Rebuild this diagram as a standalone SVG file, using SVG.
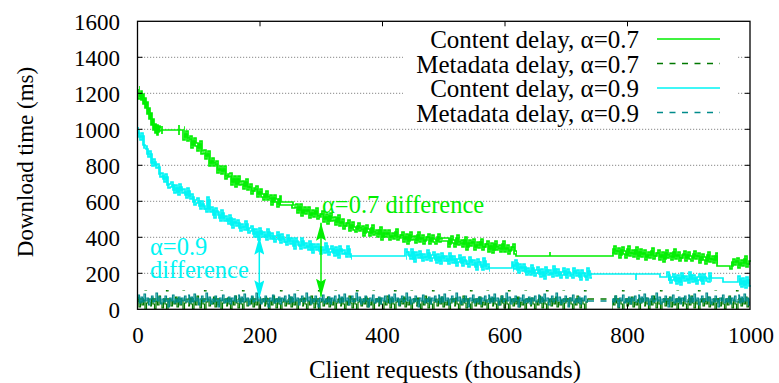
<svg xmlns="http://www.w3.org/2000/svg" width="779" height="383" viewBox="0 0 779 383" font-family="'Liberation Serif', 'Times New Roman', 'DejaVu Serif', serif">
  <style>
    text { font-family: 'Liberation Serif', 'Times New Roman', 'DejaVu Serif', serif; fill: #000; }
    .tick { font-size: 23px; }
    .ylab { text-anchor: end; }
    .xlab { text-anchor: middle; }
    .title { font-size: 24.5px; }
    .key { font-size: 25px; text-anchor: end; }
    .grid { stroke: #888; stroke-width: 1; stroke-dasharray: 1.2 1.8; fill: none; }
    .frame { fill: none; stroke: #000; stroke-width: 1.3; }
    .ticks { stroke: #000; stroke-width: 1; fill: none; }
    .c07 { stroke: #00ee00; stroke-width: 1.7; fill: none; }
    .c09 { stroke: #00f4f4; stroke-width: 1.7; fill: none; }
    .m07 { stroke: #007800; stroke-width: 1.4; fill: none; stroke-dasharray: 6 6.5; }
    .m09 { stroke: #008b8b; stroke-width: 1.4; fill: none; stroke-dasharray: 6 6.5; }
    .arr07 { stroke: #00ee00; stroke-width: 1.5; fill: none; }
    .arr09 { stroke: #00f4f4; stroke-width: 1.5; fill: none; }
  </style>
  <defs>
    <marker id="headGreen" viewBox="0 0 18 10" refX="18" refY="5" markerWidth="18" markerHeight="10" markerUnits="userSpaceOnUse" orient="auto-start-reverse">
      <path d="M0,0 L18,5 L0,10 L3,5 Z" fill="#00ee00"/>
    </marker>
    <marker id="headCyan" viewBox="0 0 18 10" refX="18" refY="5" markerWidth="18" markerHeight="10" markerUnits="userSpaceOnUse" orient="auto-start-reverse">
      <path d="M0,0 L18,5 L0,10 L3,5 Z" fill="#00f4f4"/>
    </marker>
    <!-- jittery low-latency metadata traces, tiled along the bottom of the plot -->
    <pattern id="metaGreen" patternUnits="userSpaceOnUse" x="150" y="292" width="38" height="20">
      <path d="M0,10V14H1.5V6H3V12H4.5V17H6V9H7.5V13H9V4H10.5V11H12V16H13.5V8H15V12H16.5V19H18V10H19.5V7H21V14H22.5V9H24V12H25.5V5H27V15H28.5V10H30V13H31.5V8H33V18H34.5V11H36V7H38V10" stroke="#007800" stroke-width="1.2" fill="none"/>
    </pattern>
    <pattern id="metaTeal" patternUnits="userSpaceOnUse" x="138" y="290" width="50" height="20">
      <path d="M0,9V5H1.5V13H3V7H4.5V12H6V4H7.5V11H9V8H10.5V15H12V9H13.5V6H15V12H16.5V10H18V3H19.5V11H21V7H22.5V14H24V9H25.5V12H27V6H28.5V10H30V17H31.5V8H33V11H34.5V5H36V13H37.5V9H39V12H40.5V7H42V14H43.5V8H45V11H46.5V6H48V12H50V9" stroke="#008b8b" stroke-width="1.2" fill="none"/>
    </pattern>
    <!-- stretches where the traces jitter (flat runs excluded) -->
    <clipPath id="noisy07">
      <rect x="138" y="80" width="22" height="200"/>
      <rect x="183" y="80" width="333" height="200"/>
      <rect x="611" y="80" width="106" height="200"/>
      <rect x="730" y="80" width="20" height="200"/>
    </clipPath>
    <clipPath id="noisy09">
      <rect x="138" y="120" width="213" height="180"/>
      <rect x="405" y="120" width="84" height="180"/>
      <rect x="512" y="120" width="79" height="180"/>
      <rect x="667" y="120" width="44" height="180"/>
      <rect x="738" y="120" width="12" height="180"/>
    </clipPath>
  </defs>

  <rect width="779" height="383" fill="#fff"/>

  <!-- horizontal grid -->
  <g id="grid">
    <path class="grid" d="M138,273.3H750M138,237.3H750M138,201.3H750M138,165.3H750M138,129.3H750M138,93.3H750M138,57.3H750"/>
  </g>

  <!-- key area -->
  <g id="legend">
    <rect x="403" y="22.5" width="334" height="103" fill="#fff"/>
    <text class="key" x="639" y="48">Content delay, α=0.7</text>
    <line x1="657" y1="39" x2="720" y2="39" class="c07"/>
    <text class="key" x="639" y="72.5">Metadata delay, α=0.7</text>
    <line x1="657" y1="63.5" x2="720" y2="63.5" class="m07"/>
    <text class="key" x="639" y="97">Content delay, α=0.9</text>
    <line x1="657" y1="88" x2="720" y2="88" class="c09"/>
    <text class="key" x="639" y="121.5">Metadata delay, α=0.9</text>
    <line x1="657" y1="112.5" x2="720" y2="112.5" class="m09"/>
  </g>

  <!-- metadata delay traces -->
  <g id="metadata">
    <line x1="138" y1="299" x2="750" y2="299" class="m07"/>
    <line x1="138" y1="301" x2="750" y2="301" class="m09"/>
    <rect x="138" y="290" width="450" height="19.3" fill="url(#metaGreen)"/>
    <rect x="612" y="290" width="138" height="19.3" fill="url(#metaGreen)"/>
    <rect x="138" y="290" width="450" height="19.3" fill="url(#metaTeal)"/>
    <rect x="612" y="290" width="138" height="19.3" fill="url(#metaTeal)"/>
  </g>

  <!-- content delay, alpha 0.7 -->
  <g id="content-07">
    <path id="trace07" class="c07" d="M138,89V99H140V94H141V100H142V97H143V104H144V101H145V108H146V105H147V114H148V111H149V119H150V116H151V125H152V122H153V130H154V127H155V133H156V128H157V135H158V129H159V131H160V130H162V126V134V130H179V125V135V130H183V140H185V134H187V141H189V139H191V148H193V141H195V146H197V151H199V144H201V154H203V153H205V159H207V154H209V166H211V161H213V166H215V164H217V173H219V169H221V174H223V169H225V179H227V177H229V176H231V185H233V179H235V187H237V179H239V185H241V184H243V189H245V182H247V190H249V187H251V194H253V191H255V189H257V197H259V192H261V197H263V200H265V194H267V200H269V198H271V205H273V198H275V202H277V207H279V199H280V205H292V208H295V207H297V213H299V207H301V216H303V210H305V214H307V210H309V218H311V213H313V217H315V211H317V219H319V217H321V214H323V222H325V217H327V224H329V216H331V221H333V220H335V225H337V218H339V226H341V222H343V229H345V226H347V223H349V231H351V225H353V230H355V232H357V226H359V231H361V229H363V236H365V228H367V232H369V236H371V228H373V235H375V233H377V237H379V230H381V240H383V233H385V237H387V233H389V240H391V236H393V239H395V232H397V240H399V238H401V235H403V242H405V237H407V244H409V235H411V240H413V239H415V243H417V235H419V242H421V238H423V244H425V240H427V237H429V244H431V238H433V242H435V244H437V237H439V242H441V241H448V247H450V239H452V243H454V247H456V238H458V245H460V243H462V247H464V240H466V250H468V243H470V246H472V242H474V250H476V245H478V248H480V242H482V250H484V247H486V244H488V252H490V246H492V253H494V244H496V250H498V248H500V252H502V244H504V252H506V248H508V254H510V250H512V247H514V254H516V256H550V252V256H611H613V249H615V254H617V251H619V258H621V250H623V254H625V258H627V249H629V256H631V253H633V257H635V250H637V259H639V252H641V257H643V253H645V260H647V255H649V258H651V251H653V259H655V256H657V253H659V260H661V255H663V262H665V253H667V258H669V256H671V260H673V252H675V259H677V255H679V261H681V258H683V254H685V261H687V255H689V259H691V261H693V254H695V259H697V256H699V263H701V257H703V260H705V264H707V255H709V262H711V259H713V263H715V256H717V266H730V269H732V262H734V265H736V261H738V268H740V263H742V266H744V259H746V267H748V264H750"/>
    <use href="#trace07" transform="translate(1,-3)" clip-path="url(#noisy07)"/>
  </g>

  <!-- content delay, alpha 0.9 -->
  <g id="content-09">
    <path id="trace09" class="c09" d="M138,127V133H139V137H141V133H143V145H145V146H147V154H149V151H151V163H153V159H155V165H157V164H159V174H161V173H163V179H165V174H167V185H169V184H171V182H173V190H175V185H177V192H179V184H181V190H183V189H185V195H187V188H189V196H191V194H193V202H195V200H197V198H199V206H201V201H203V206H205V209H207V197H209V209H211V207H213V215H215V208H217V212H219V218H221V210H223V218H225V216H227V221H229V215H231V225H233V219H235V223H237V220H239V228H241V224H243V227H245V221H247V230H249V228H251V226H253V234H255V229H257V237H259V228H261V234H263V232H265V237H267V229H269V236H271V233H273V239H275V236H277V232H279V240H281V234H283V239H285V242H287V235H289V241H291V238H293V246H295V238H297V242H299V246H301V238H303V245H305V243H307V247H309V241H311V250H313V244H315V247H317V244H319V251H321V247H323V250H325V243H327V252H329V249H331V246H333V253H335V247H337V255H339V246H341V251H343V250H345V254H347V246H349V254H351V256H405V249H407V252H409V256H411V249H413V259H415V252H417V255H419V251H421V258H423V254H425V257H427V250H429V258H431V255H433V252H435V260H437V254H439V261H441V253H443V258H445V256H447V261H449V253H451V260H453V256H455V263H457V259H459V255H461V263H463V257H465V261H467V264H469V257H471V262H473V260H475V267H477V259H479V262H481V267H483V258H485V266H487V264H489V268H512V262H513V266H515V260H517V270H519V264H521V268H523V264H525V272H527V268H529V272H531V265H533V273H535V270H537V267H539V274H541V269H543V276H545V267H547V272H549V270H551V274H553V266H555V273H557V269H559V275H561V272H563V268H565V275H567V269H569V273H571V275H573V268H575V273H577V270H579V277H581V270H583V273H585V277H587V268H589V275H591V274H636V280V274H660V277H667V272H669V280H671V277H673V274H675V281H677V275H679V282H681V273H683V278H685V276H687V280H689V272H691V279H693V275H695V281H697V277H699V274H701V281H703V274H705V278H707V279H709V273H711V278H723V282H738V276H740V284H742V278H744V285H746V277H748V283H750"/>
    <use href="#trace09" transform="translate(1,3)" clip-path="url(#noisy09)"/>
  </g>

  <!-- difference arrows -->
  <g id="connectors">
    <path class="arr09" d="M259.3,236.7V298.3" marker-start="url(#headCyan)" marker-end="url(#headCyan)"/>
    <path class="arr07" d="M321,222.7V296.7" marker-start="url(#headGreen)" marker-end="url(#headGreen)"/>
  </g>

  <g id="label-07">
    <text class="title" x="322" y="213" fill="#00ee00" style="fill:#00ee00">α=0.7 difference</text>
  </g>
  <g id="label-09">
    <text class="title" fill="#00f4f4" style="fill:#00f4f4"><tspan x="150" y="255">α=0.9</tspan><tspan x="150" y="278">difference</tspan></text>
  </g>

  <!-- frame and tics -->
  <g id="axes">
    <rect class="frame" x="137.5" y="21.3" width="612.5" height="288"/>
    <path class="ticks" d="M137.5,273.3h5M137.5,237.3h5M137.5,201.3h5M137.5,165.3h5M137.5,129.3h5M137.5,93.3h5M137.5,57.3h5M750,273.3h-5M750,237.3h-5M750,201.3h-5M750,165.3h-5M750,129.3h-5M750,93.3h-5M750,57.3h-5M260,309.3v-5M382.5,309.3v-5M505,309.3v-5M627.5,309.3v-5M260,21.3v5M382.5,21.3v5M505,21.3v5M627.5,21.3v5"/>
    <text class="ylab tick" x="120" y="318">0</text>
    <text class="ylab tick" x="120" y="282">200</text>
    <text class="ylab tick" x="120" y="246">400</text>
    <text class="ylab tick" x="120" y="210">600</text>
    <text class="ylab tick" x="120" y="174">800</text>
    <text class="ylab tick" x="120" y="138">1000</text>
    <text class="ylab tick" x="120" y="102">1200</text>
    <text class="ylab tick" x="120" y="66">1400</text>
    <text class="ylab tick" x="120" y="30">1600</text>
    <text class="xlab tick" x="138" y="343">0</text>
    <text class="xlab tick" x="260" y="343">200</text>
    <text class="xlab tick" x="382.5" y="343">400</text>
    <text class="xlab tick" x="505" y="343">600</text>
    <text class="xlab tick" x="627.5" y="343">800</text>
    <text class="xlab tick" x="751" y="343">1000</text>
    <text x="445" y="378" font-size="25" text-anchor="middle">Client requests (thousands)</text>
    <text transform="translate(33,162) rotate(-90)" font-size="23" text-anchor="middle">Download time (ms)</text>
  </g>
</svg>
